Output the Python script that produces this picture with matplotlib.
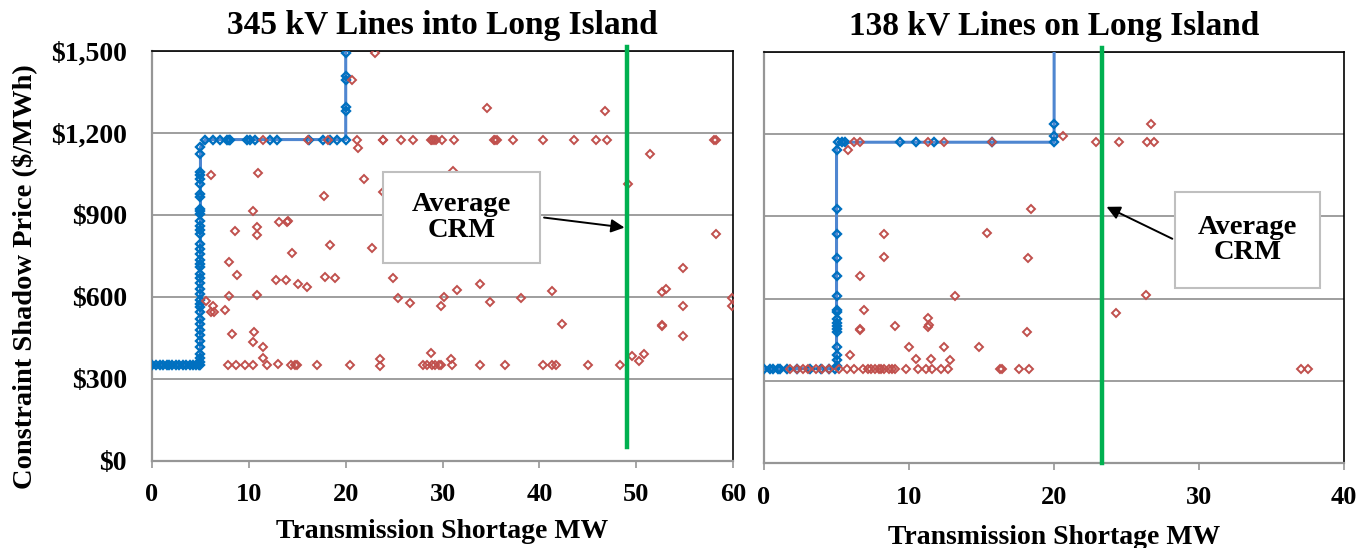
import matplotlib.pyplot as plt
from matplotlib.patches import Rectangle
from matplotlib.ticker import FuncFormatter

plt.rcParams['font.family'] = ['Liberation Serif', 'DejaVu Serif']
plt.rcParams['font.weight'] = 'bold'

# 345 kV panel: blue step series (sorted shortage curve)
b1_base_x = [0, 0.4, 0.8, 1.1, 1.5, 1.8, 2.1, 2.5, 2.8, 3.2, 3.5, 3.9, 4.2, 4.5, 4.8, 5.0]
b1_vert_y = [360, 375, 392, 416, 440, 460, 480, 502, 520, 545, 562, 575, 587, 611, 630, 650,
             668, 684, 709, 720, 733, 757, 775, 794, 830, 845, 860, 879, 903, 915, 922, 965,
             977, 1013, 1030, 1045, 1055, 1123, 1147]
b1_top_x = [5.5, 6.3, 7.0, 7.7, 7.9, 8.1, 9.8, 10.1, 10.6, 12.2, 12.9, 16.2, 17.7, 18.4, 19.1, 20.0]
b1_end_y = [1281, 1293, 1393, 1409, 1490]
blue1_x = b1_base_x + [5.0] * len(b1_vert_y) + b1_top_x + [20.0] * len(b1_end_y)
blue1_y = [350] * len(b1_base_x) + b1_vert_y + [1175] * len(b1_top_x) + b1_end_y

red1_x = [23.0, 20.7, 21.2, 21.3, 23.8, 11.5, 16.1, 18.2, 21.9, 6.1, 10.9, 17.8, 10.4, 8.6,
          10.8, 10.8, 13.1, 13.9, 14.0, 18.4, 14.5, 22.7, 7.9, 8.8, 12.8, 13.8, 15.1, 16.0,
          17.9, 18.9, 7.9, 10.8, 5.6, 6.3, 6.4, 6.1, 7.5, 8.3, 10.5, 10.4, 11.5, 11.5, 11.9,
          13.0, 7.8, 8.7, 9.6, 10.4, 14.4, 14.8, 15.0, 17.0, 20.4, 23.5, 23.5,
          34.6, 46.8, 23.9, 25.7, 26.9, 28.8, 28.9, 29.1, 29.3, 29.9, 31.2, 35.3, 35.4, 35.6,
          37.3, 40.4, 43.6, 45.8, 47.0, 58.0, 58.2,
          51.4, 49.2, 31.1, 23.8, 58.2, 54.8, 24.9, 33.9, 31.5, 41.3, 25.4, 26.6, 30.1, 29.8,
          34.9, 38.1, 52.7, 53.1, 54.8, 59.9, 59.9, 42.3, 52.7, 52.7, 54.8, 28.8, 30.9, 31.0,
          28.0, 28.4, 28.9, 29.2, 29.6, 29.8, 33.9, 36.5, 40.4, 41.3, 41.7, 45.0, 48.3,
          49.6, 50.3, 50.8]
red1_y = [1490, 1393, 1175, 1143, 1175, 1175, 1175, 1175, 1031, 1047, 1052, 968, 913, 839,
          857, 827, 873, 875, 877, 791, 760, 779, 729, 678, 660, 660, 645, 637,
          672, 667, 604, 606, 583, 566, 544, 545, 553, 465, 473, 435, 416, 376, 349,
          356, 349, 349, 349, 349, 349, 349, 349, 349, 351, 371, 347,
          1291, 1280, 1175, 1175, 1175, 1175, 1175, 1175, 1175, 1175, 1175, 1175, 1175, 1175,
          1175, 1175, 1175, 1175, 1175, 1175, 1175,
          1123, 1011, 1059, 983, 828, 705, 668, 648, 626, 623, 597, 578, 599, 568,
          581, 597, 616, 627, 565, 597, 568, 499, 497, 492, 455, 394, 371, 349,
          349, 349, 349, 349, 349, 349, 349, 349, 349, 349, 349, 349, 349,
          382, 364, 392]

# 138 kV panel
b2_base_x = [0, 0.4, 0.6, 1.0, 1.1, 1.6, 2.3, 3.2, 3.9, 4.5, 4.9]
b2_vert_y = [353, 375, 393, 423, 478, 490, 500, 510, 526, 550, 560, 611, 683, 748, 837, 925, 1143]
b2_top_x = [5.1, 5.4, 5.6, 9.4, 10.5, 11.7, 15.7, 20.0]
b2_end_y = [1194, 1236]
blue2_x = b2_base_x + [5.0] * len(b2_vert_y) + b2_top_x + [20.0] * len(b2_end_y)
blue2_y = [345] * len(b2_base_x) + b2_vert_y + [1170] * len(b2_top_x) + b2_end_y

red2_x = [5.8, 18.4, 8.3, 15.4, 8.3, 18.2, 6.6, 13.2, 6.9, 6.6, 6.6, 9.0, 11.3, 11.4, 11.3,
          18.1, 10.0, 12.4, 14.8, 5.9, 10.5, 11.5, 12.8,
          6.2, 6.6, 11.3, 12.4, 15.7, 22.9, 24.5, 26.4, 26.9, 20.6, 26.7, 26.3, 24.3,
          1.8, 2.25, 2.7, 3.05, 3.6, 4.0, 4.5, 5.2, 5.7, 6.2, 6.8, 7.2, 7.4, 7.65, 7.9, 8.1,
          8.3, 8.6, 8.8, 9.0, 9.8, 10.6, 11.2, 11.6, 12.2, 12.7, 16.3, 16.4, 17.6, 18.3,
          37.0, 37.5]
red2_y = [1143, 925, 837, 841, 750, 748, 683, 611, 560, 486, 490, 500, 529, 504, 495,
          477, 423, 423, 423, 393, 379, 379, 375,
          1170, 1170, 1170, 1170, 1170, 1170, 1170, 1170, 1170, 1194, 1236, 613, 548] + [345] * 32

avg_crm = [49.1, 23.3]
titles = ['345 kV Lines into Long Island', '138 kV Lines on Long Island']
xmax = [60, 40]

fig = plt.figure(figsize=(13.65, 5.48), dpi=100)
ax1 = fig.add_axes([0.1114, 0.159, 0.4256, 0.7485])
ax2 = fig.add_axes([0.5597, 0.1546, 0.4251, 0.7511])

panels = [(ax1, blue1_x, blue1_y, red1_x, red1_y),
          (ax2, blue2_x, blue2_y, red2_x, red2_y)]
boxes = [(0.3976, 0.482, 0.270, 0.222), (0.708, 0.426, 0.250, 0.233)]
arrows = [((0.670, 0.594), (0.818, 0.568)), ((0.708, 0.5425), (0.586, 0.626))]

for i, (ax, bx, by, rx, ry) in enumerate(panels):
    # blue curve, continued up to the top of the chart
    ax.plot(bx + [bx[-1]], by + [1500], color='#4f86d0', lw=2.2, zorder=3)
    ax.plot(bx, by, ls='none', marker='D', ms=4.0, mfc='none', mec='#0070c0', mew=1.7, zorder=4)
    ax.plot(rx, ry, ls='none', marker='D', ms=4.4, mfc='none', mec='#c0504d', mew=1.4, zorder=5)
    y0 = 50 if i == 0 else 0
    ax.plot([avg_crm[i], avg_crm[i]], [y0, 1515], color='#00b050', lw=3.2, zorder=6, clip_on=False)

    ax.set_xlim(0, xmax[i])
    ax.set_ylim(0, 1500)
    ax.set_xticks(range(0, xmax[i] + 1, 10))
    ax.set_yticks(range(0, 1501, 300))
    ax.yaxis.set_major_formatter(FuncFormatter(lambda v, p: '${:,.0f}'.format(v)))
    ax.grid(axis='y', color='#969696', lw=1.3)
    ax.set_axisbelow(True)
    ax.tick_params(axis='x', direction='out', length=5, color='#969696', width=1.2,
                   labelsize=19, pad=11)
    ax.tick_params(axis='y', length=0, labelsize=20, pad=18)
    for s in ['left', 'bottom']:
        ax.spines[s].set_color('#969696')
        ax.spines[s].set_linewidth(1.6)
    for s in ['top', 'right']:
        ax.spines[s].set_color('black')
        ax.spines[s].set_linewidth(1.2)
    ax.set_title(titles[i], fontsize=24, fontweight='bold', pad=12)
    ax.set_xlabel('Transmission Shortage MW', fontsize=20, fontweight='bold', labelpad=9)

    bxx, byy, bw, bh = boxes[i]
    ax.add_patch(Rectangle((bxx, byy), bw, bh, transform=ax.transAxes, facecolor='white',
                           edgecolor='#bfbfbf', lw=1.5, zorder=7))
    ax.text(bxx + bw / 2, byy + bh / 2, 'Average\nCRM', transform=ax.transAxes, ha='center',
            va='center', fontsize=20.5, fontweight='bold', linespacing=1.05, zorder=8)
    tail, tip = arrows[i]
    ax.annotate('', xy=tip, xycoords='axes fraction', xytext=tail, textcoords='axes fraction',
                arrowprops=dict(arrowstyle='-|>', color='black', lw=1.4, mutation_scale=20),
                zorder=8)

ax2.set_yticklabels([])
ax2.xaxis.labelpad = 12
ax1.set_ylabel('Constraint Shadow Price ($/MWh)', fontsize=20.5, fontweight='bold')
ax1.yaxis.set_label_coords(-0.198, 0.448)

fig.savefig('out.png', dpi=100)
